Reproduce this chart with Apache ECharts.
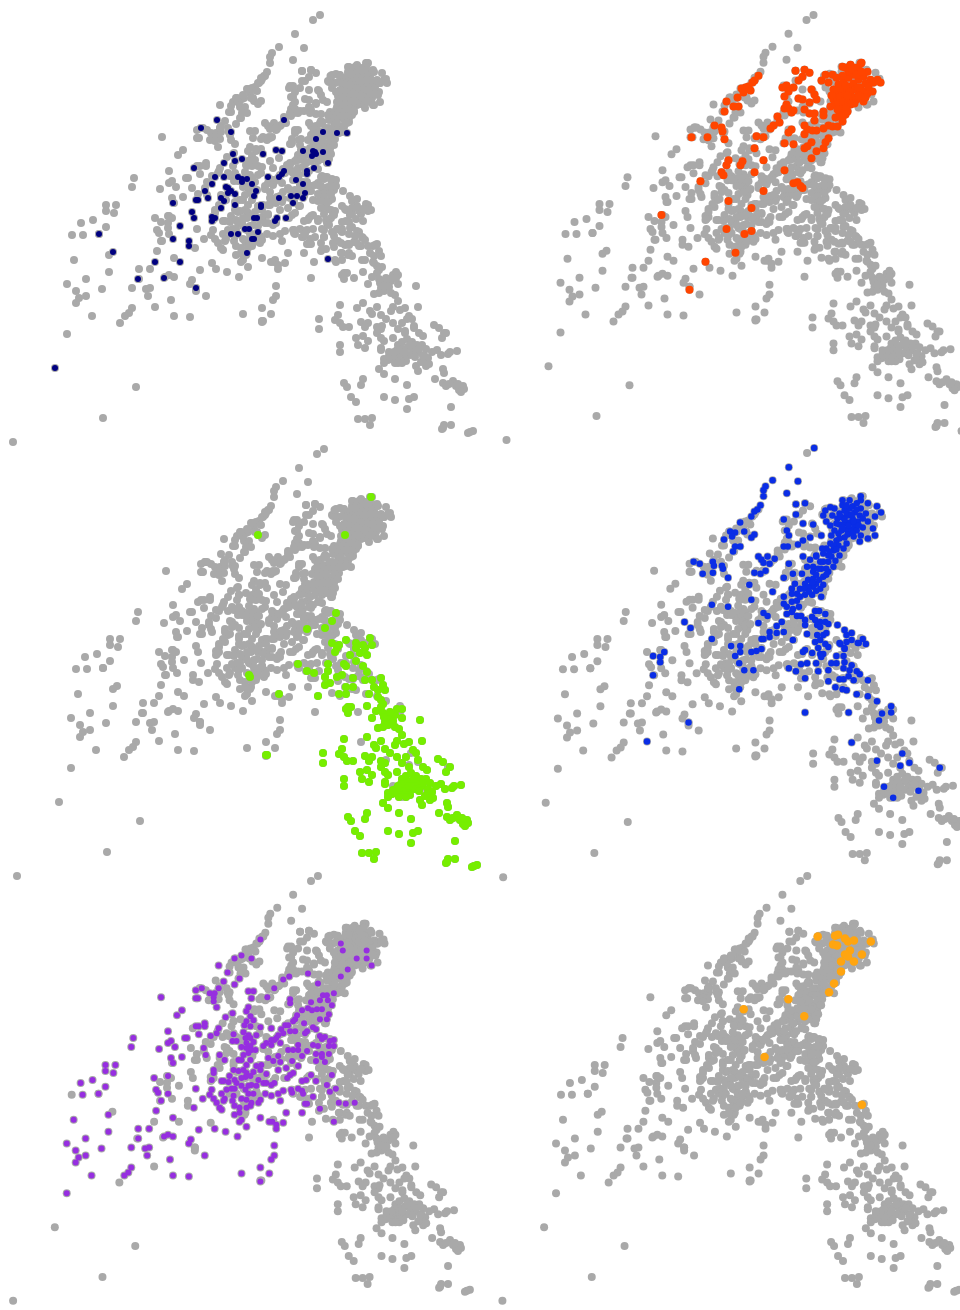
<!DOCTYPE html>
<html><head><meta charset="utf-8">
<style>html,body{margin:0;padding:0;background:#fff}#c{width:960px;height:1310px}</style>
<script src="https://cdn.jsdelivr.net/npm/echarts@6/dist/echarts.min.js"></script>
</head><body><div id="c"></div>
<script>
const navy=[[55,368],[99,234],[113,252],[138,279],[155,262],[164,278],[180,262],[196,288],[173,239],[180,226],[173,203],[189,241],[189,246],[192,212],[194,218],[194,168],[201,128],[217,120],[231,132],[284,120],[323,132],[316,139],[337,133],[347,133],[303,151],[313,151],[315,152],[312,156],[316,154],[323,152],[328,163],[314,168],[276,150],[282,151],[263,154],[233,154],[224,163],[235,161],[242,159],[215,177],[224,177],[212,184],[205,191],[208,198],[196,200],[198,200],[238,177],[242,179],[247,179],[242,182],[252,184],[256,191],[254,196],[226,187],[228,188],[231,191],[228,193],[235,194],[221,198],[224,201],[235,205],[221,208],[212,217],[215,218],[212,221],[268,177],[279,177],[282,174],[284,171],[296,180],[303,184],[307,171],[307,174],[305,193],[291,196],[297,196],[303,198],[293,203],[279,198],[261,205],[261,207],[286,218],[277,218],[275,221],[254,218],[257,218],[245,229],[249,229],[231,234],[238,234],[258,232],[252,239],[254,239],[247,253],[328,259]];
const red=[[265,76],[261,81],[259,83],[255,87],[252,88],[248,89],[250,93],[257,91],[244,98],[233,102],[240,107],[245,107],[231,112],[221,126],[228,128],[229,132],[231,140],[214,138],[198,138],[207,182],[168,216],[212,263],[196,291],[242,254],[233,230],[251,235],[258,232],[235,202],[258,209],[228,173],[230,176],[233,166],[235,161],[247,166],[249,162],[261,173],[270,161],[261,149],[263,137],[270,138],[270,192],[291,171],[300,184],[304,183],[307,187],[309,189],[291,144],[300,145],[318,159],[323,152],[311,149],[314,147],[318,143],[330,149],[332,143],[335,139],[311,135],[314,130],[311,126],[319,131],[323,131],[330,129],[277,129],[280,126],[284,117],[286,123],[295,133],[298,130],[291,109],[295,109],[293,105],[298,113],[300,111],[291,97],[289,88],[293,86],[300,88],[295,92],[305,99],[309,100],[316,103],[311,110],[316,114],[321,114],[321,121],[318,90],[321,95],[323,100],[302,71],[311,70],[316,73],[309,77],[305,81],[328,81],[332,75],[339,75],[335,83],[330,112],[330,116],[337,107],[340,100],[342,105],[335,126],[339,127],[344,127],[349,122],[342,118],[346,113],[350,108],[354,112],[357,105],[345,85],[350,82],[355,78],[360,75],[365,70],[352,68],[357,65],[368,63],[345,92],[350,90],[355,87],[360,84],[365,80],[370,77],[342,98],[347,97],[352,95],[357,93],[362,90],[367,88],[345,104],[350,102],[355,100],[360,98],[365,95],[348,110],[353,108],[358,104],[363,100],[370,92],[352,115],[347,117],[355,72],[362,68],[349,76],[343,78],[367,64],[349,67],[357,66],[374,72],[377,80],[384,80],[387,83],[380,83],[379,92],[374,94],[370,102],[365,88],[340,90],[338,96],[344,110],[349,118],[356,92],[352,86],[359,70],[363,75],[368,72],[372,84],[354,96],[361,104],[366,97],[372,98],[375,87]];
const green=[[367,63],[254,101],[341,101],[245,241],[262,321],[332,179],[328,187],[321,194],[303,195],[294,230],[275,260],[263,321],[246,243],[328,209],[342,206],[335,211],[333,214],[331,218],[352,209],[352,214],[359,211],[361,214],[366,204],[368,211],[346,221],[356,219],[363,221],[352,227],[340,230],[342,232],[359,232],[363,238],[324,230],[324,237],[321,243],[326,249],[321,251],[303,237],[310,239],[314,262],[333,243],[338,241],[349,244],[361,246],[368,246],[377,244],[342,253],[349,253],[335,260],[342,260],[365,260],[370,253],[374,256],[379,251],[381,256],[374,263],[377,266],[379,270],[377,273],[344,273],[347,273],[342,275],[344,279],[363,272],[372,277],[368,284],[379,279],[384,281],[386,284],[391,281],[393,275],[398,275],[398,284],[381,288],[379,293],[374,294],[384,291],[391,293],[395,295],[416,286],[398,301],[393,307],[391,311],[400,310],[405,308],[418,307],[377,307],[363,303],[340,305],[370,311],[372,314],[381,315],[386,319],[393,323],[409,316],[412,319],[338,315],[335,320],[340,323],[343,327],[349,327],[319,319],[319,329],[361,322],[368,323],[365,327],[377,327],[381,329],[377,333],[356,338],[363,336],[368,341],[358,345],[365,348],[340,345],[340,352],[381,338],[384,341],[393,338],[381,348],[381,350],[398,329],[402,323],[405,333],[414,326],[419,333],[423,336],[434,325],[439,328],[446,333],[442,338],[398,345],[402,342],[407,339],[412,342],[417,345],[403,349],[408,347],[413,350],[418,352],[400,354],[405,356],[410,355],[415,357],[422,345],[426,349],[392,355],[395,358],[388,360],[400,361],[406,361],[424,355],[428,358],[432,352],[437,350],[441,355],[448,354],[450,352],[457,351],[384,359],[384,363],[389,356],[393,359],[395,363],[402,363],[416,366],[418,371],[426,366],[424,359],[379,369],[384,374],[443,369],[444,373],[435,379],[443,383],[446,386],[453,381],[456,386],[459,390],[463,386],[464,389],[395,379],[407,385],[344,383],[347,387],[363,379],[361,385],[351,397],[356,402],[384,397],[395,400],[409,399],[414,397],[407,409],[451,407],[358,419],[365,419],[372,418],[370,425],[444,425],[442,429],[451,425],[468,433],[473,431],[461,392],[458,384],[449,384],[443,428],[470,432],[421,362],[419,349],[410,345],[405,352],[397,350],[394,352],[429,364],[380,283],[389,287],[386,278]];
const blue=[[320,15],[295,34],[304,48],[293,60],[279,47],[272,53],[270,57],[270,63],[267,72],[264,76],[261,78],[258,83],[247,89],[237,98],[242,99],[239,103],[231,106],[251,98],[261,101],[258,104],[242,113],[247,113],[240,118],[201,128],[207,130],[220,128],[221,132],[229,132],[230,135],[210,140],[220,139],[235,144],[265,123],[268,126],[274,123],[281,125],[270,129],[276,130],[261,139],[267,140],[272,137],[295,130],[290,144],[256,151],[302,71],[311,70],[302,81],[290,86],[309,90],[319,91],[293,97],[295,102],[316,104],[327,102],[290,113],[294,113],[304,111],[309,107],[309,123],[316,126],[322,122],[313,133],[319,133],[299,140],[308,140],[345,80],[350,77],[355,75],[360,79],[365,82],[343,85],[348,84],[353,82],[358,85],[363,88],[345,91],[350,90],[355,89],[360,92],[347,97],[352,96],[357,96],[362,97],[368,94],[366,63],[366,67],[355,67],[348,67],[373,70],[382,73],[386,79],[380,83],[373,88],[366,75],[331,77],[336,74],[329,82],[332,88],[342,90],[378,95],[380,102],[373,105],[366,102],[365,108],[359,103],[352,110],[349,115],[342,107],[336,110],[332,115],[339,117],[345,122],[334,122],[329,120],[322,123],[341,127],[334,128],[329,128],[327,135],[334,138],[339,133],[319,138],[314,146],[319,145],[322,150],[329,143],[332,141],[311,150],[306,155],[301,150],[298,155],[319,153],[314,153],[329,151],[326,155],[311,161],[318,161],[327,163],[303,160],[298,160],[290,163],[290,170],[293,173],[298,168],[303,167],[305,173],[299,175],[293,180],[298,178],[303,182],[307,182],[279,158],[258,166],[235,173],[219,171],[270,179],[274,182],[265,189],[192,188],[198,194],[219,205],[321,177],[325,177],[331,180],[311,186],[318,183],[311,191],[321,186],[326,188],[331,188],[323,191],[326,193],[334,190],[313,200],[323,201],[329,201],[332,199],[326,206],[321,208],[343,191],[350,196],[357,199],[352,201],[368,205],[371,210],[364,209],[357,206],[352,208],[346,210],[350,214],[309,218],[318,219],[311,216],[324,214],[331,210],[334,213],[326,220],[329,220],[327,223],[342,222],[349,222],[242,222],[238,212],[247,212],[247,218],[258,218],[263,217],[268,215],[283,192],[288,188],[276,198],[283,199],[290,198],[276,203],[268,205],[270,205],[299,206],[161,222],[168,223],[172,218],[168,228],[161,241],[196,288],[155,307],[246,229],[251,236],[260,236],[246,255],[295,234],[302,237],[307,230],[313,229],[311,244],[311,278],[322,229],[324,237],[334,236],[334,247],[337,229],[342,229],[350,228],[357,231],[355,236],[349,234],[345,245],[349,245],[354,242],[359,246],[362,237],[365,240],[341,253],[348,255],[352,256],[362,260],[373,246],[373,262],[382,267],[396,272],[396,278],[387,279],[384,286],[354,278],[357,308],[382,326],[407,319],[405,331],[414,328],[444,333],[389,352],[423,356],[398,363],[345,209],[350,215],[363,209],[346,83],[352,79],[357,81],[350,86],[354,92],[348,94],[359,88],[344,100],[353,101],[358,73],[348,72],[362,76],[364,92],[340,97],[337,102],[344,112],[335,118],[324,135],[322,141],[318,149],[310,155],[306,163],[322,157],[337,123],[340,75],[338,82],[336,92],[352,72],[362,70],[368,85],[371,80],[358,100],[350,104],[345,105],[339,112],[326,128],[325,146],[315,158],[332,135],[328,115],[342,116]];
const purple=[[67,334],[162,137],[92,316],[76,303],[79,298],[86,296],[76,291],[67,284],[86,279],[102,289],[109,272],[74,260],[109,255],[83,235],[99,234],[106,227],[81,223],[93,220],[106,205],[116,205],[106,211],[114,213],[132,187],[134,178],[160,189],[169,171],[169,183],[172,181],[176,187],[183,150],[178,155],[172,198],[174,203],[183,197],[186,178],[188,178],[200,174],[197,166],[200,166],[206,163],[206,166],[205,188],[207,195],[155,218],[169,216],[157,230],[159,233],[169,234],[162,241],[157,251],[174,258],[139,269],[150,269],[139,279],[132,288],[146,289],[150,288],[148,296],[165,277],[169,275],[174,277],[171,300],[174,316],[190,317],[132,308],[129,313],[125,316],[192,280],[190,284],[206,296],[200,270],[216,269],[227,272],[239,277],[195,248],[197,229],[204,239],[243,314],[262,308],[271,314],[262,322],[273,300],[276,296],[276,286],[248,267],[262,258],[271,262],[274,262],[278,265],[278,269],[285,263],[288,253],[304,253],[336,262],[322,249],[262,79],[243,95],[236,98],[253,98],[220,105],[229,112],[241,118],[225,121],[236,124],[197,130],[203,128],[211,133],[216,133],[220,128],[215,137],[215,141],[218,147],[197,138],[199,138],[250,131],[255,131],[253,138],[269,137],[276,128],[285,119],[291,116],[292,139],[292,143],[310,113],[320,123],[336,133],[343,116],[350,109],[343,83],[345,90],[359,98],[369,90],[369,98],[374,105],[325,135],[329,135],[313,142],[322,140],[330,140],[334,145],[310,148],[314,150],[319,149],[324,149],[331,154],[322,159],[329,159],[304,150],[299,155],[297,159],[295,161],[306,163],[315,167],[318,169],[307,173],[309,171],[322,176],[327,177],[336,180],[324,179],[332,181],[336,186],[315,185],[320,186],[331,186],[318,194],[324,194],[331,194],[324,197],[318,201],[327,202],[334,215],[329,225],[332,232],[338,229],[315,237],[318,221],[313,215],[308,220],[304,221],[341,243],[348,244],[357,243],[307,244],[309,244],[250,147],[248,151],[252,156],[248,161],[252,166],[262,167],[250,175],[247,178],[252,178],[258,175],[235,174],[234,181],[238,181],[248,183],[252,186],[248,188],[253,190],[250,193],[220,168],[218,173],[212,176],[227,157],[234,153],[273,168],[287,165],[283,169],[280,175],[285,173],[278,178],[292,171],[297,171],[273,180],[268,183],[265,186],[273,185],[282,183],[270,198],[275,201],[280,196],[282,202],[290,190],[295,190],[300,185],[300,190],[294,201],[304,196],[309,191],[221,195],[226,200],[215,210],[215,213],[213,220],[243,200],[248,205],[235,210],[240,211],[245,210],[248,213],[258,206],[263,205],[262,210],[247,217],[231,216],[253,225],[260,220],[265,223],[236,220],[238,223],[223,221],[225,221],[228,230],[233,229],[236,229],[247,230],[250,226],[268,223],[273,225],[276,223],[280,210],[288,208],[300,206],[292,215],[295,213],[289,218],[213,230],[211,235],[215,239],[223,234],[226,239],[218,243],[225,241],[221,248],[223,250],[235,236],[234,241],[236,246],[241,248],[236,255],[241,253],[248,240],[250,234],[255,234],[252,246],[248,248],[253,243],[260,243],[262,240],[267,234],[273,236],[280,234],[285,231],[282,241],[293,230],[294,233],[300,229],[304,231],[305,234],[243,239],[243,260],[241,262],[246,165],[255,160],[245,172],[255,182],[243,187],[257,190],[245,195],[240,200],[252,200],[255,212],[243,218],[252,216],[258,226],[243,226],[230,222],[268,214],[276,180],[290,165]];
const orange=[[330.5,76],[348,75],[351,74],[346,84],[350,85],[358,78],[361,81],[367,80],[384,81],[363,90],[358,94],[361,96],[354,101],[367,101],[375,94],[354,111],[347,123],[342,132],[317,156],[301,139],[256,149],[277,197],[375,245]];
const unassigned=[[13,442],[103,418],[136,387],[72,235],[120,323],[313,20]];

const background=[].concat(navy,red,green,blue,purple,orange,unassigned);
const colours=['#000080','#FF4500','#76EE00','#0A2DE6','#962EE0','#FFA510'];
const groups=[navy,red,green,blue,purple,orange];
const sizes=[6,8,8,6.5,6,8.5];
const domainX=460, domainY=440;
// left, top, x scale, y scale of each facet
const facets=[[0,0,1,1],[493.5,-0.3,1,0.996],[4,434,1,1],[490,433,1.013,1.005],[0.2,861,0.993,0.995],[489.5,861,0.993,0.995]];

const grid=[],xAxis=[],yAxis=[],series=[];
facets.forEach((f,i)=>{
  grid.push({left:f[0],top:f[1],width:domainX*f[2],height:domainY*f[3],containLabel:false});
  xAxis.push({type:'value',gridIndex:i,min:0,max:domainX,show:false});
  yAxis.push({type:'value',gridIndex:i,min:0,max:domainY,inverse:true,show:false});
  series.push({type:'scatter',xAxisIndex:i,yAxisIndex:i,data:background,symbolSize:8,silent:true,clip:false,itemStyle:{color:'#A9A9A9',opacity:1}});
  series.push({type:'scatter',xAxisIndex:i,yAxisIndex:i,data:groups[i],symbolSize:sizes[i],silent:true,clip:false,itemStyle:{color:colours[i],opacity:1}});
});
const chart=echarts.init(document.getElementById('c'),null,{renderer:'canvas'});
chart.setOption({animation:false,backgroundColor:'#fff',grid,xAxis,yAxis,series});
</script></body></html>
